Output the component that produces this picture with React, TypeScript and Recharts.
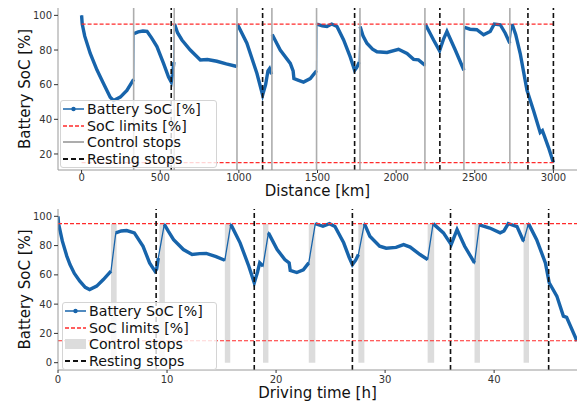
import React from "react";
import { ComposedChart, Line, XAxis, YAxis, ReferenceLine, ReferenceArea, Label } from "recharts";

// SoC over distance (upper panel)
const distanceKm = [
	0, 4, 20, 55, 98, 140, 182, 203, 246, 288, 331,
	333, 360, 390, 416, 445, 479, 521, 553, 570, 578, 587,
	591, 610, 638, 691, 755, 800, 860, 920, 988,
	990, 1051, 1115, 1151, 1170, 1185, 1195, 1208,
	1212, 1263, 1327, 1345, 1350, 1380, 1411, 1454, 1494,
	1496, 1530, 1560, 1590, 1624, 1666, 1708, 1736, 1750, 1765,
	1771, 1790, 1814, 1850, 1878, 1942, 2015, 2069, 2111, 2142, 2183,
	2185, 2238, 2276, 2300, 2323, 2376, 2431,
	2435, 2470, 2513, 2556, 2598, 2624, 2662, 2694, 2723,
	2737, 2760, 2789, 2832, 2874, 2916, 2930, 2940, 2969, 3000,
];
const distanceSoc = [
	100, 95, 88, 78, 68.4, 60.6, 52.8, 50.9, 52.8, 56.7, 63,
	89.5, 90.5, 91, 90.8, 87, 82, 72.3, 64.4, 61.5, 66, 73,
	95, 90, 85.8, 80, 74.2, 74.5, 73.5, 72, 70.5,
	95, 83.9, 66.4, 54, 60, 68, 69.3, 66,
	89, 80, 72.3, 68, 63.5, 62.5, 61.5, 63.5, 68,
	95, 94, 93.6, 95, 93.6, 85.8, 76, 68.3, 70, 73,
	93.5, 88, 83.9, 80.5, 79, 78.6, 80.4, 78, 74.6, 74.3, 71.3,
	95, 85.8, 79.6, 86, 90.7, 80, 68.3,
	93, 92, 91.7, 88.8, 90.7, 95, 94.6, 89.7, 83.9,
	95, 89, 78, 56.7, 45, 32.4, 33.5, 31, 23.7, 15,
];
const controlStopsKm = [331, 589, 988, 1210, 1494, 1770, 2183, 2431, 2723];
const restingStopsKm = [570, 1151, 1736, 2278, 2838, 3000];
const distanceTicks = [0, 500, 1000, 1500, 2000, 2500, 3000];

// SoC over driving time (lower panel)
const drivingHours = [
	0, 0.05, 0.4, 0.8, 1.1, 1.5, 2.0, 2.5, 2.9, 3.55, 4.16, 4.86,
	5.3, 5.8, 6.3, 7.0, 7.8, 8.4, 8.9, 9.05, 9.2,
	9.75, 10.1, 10.6, 11.5, 12.3, 13.0, 13.6, 14.5, 15.3,
	15.85, 16.7, 17.5, 18.0, 18.3, 18.5, 18.8,
	19.3, 20.1, 20.8, 21.2, 21.3, 21.9, 22.5, 23.0,
	23.6, 24.3, 24.9, 25.4, 26.2, 26.7, 27.0, 27.3, 27.55,
	28.1, 28.6, 29.5, 30.1, 31.0, 31.7, 32.3, 33.2, 33.9,
	34.4, 35.35, 36.06, 36.6, 37.3, 38.2,
	38.65, 39.6, 40.55, 40.9, 41.3, 42.1, 42.7,
	43.15, 43.9, 44.7, 45.05, 45.75, 46.35, 46.65, 47.6,
];
const drivingSoc = [
	100, 95, 83, 73, 67, 61, 55.7, 51.5, 50, 52.3, 56.8, 62.5,
	88.7, 90, 90.3, 88.7, 79.5, 68.2, 62.5, 64, 71.6,
	94.5, 90, 84.1, 77.3, 73.9, 74.5, 74.6, 72.5, 70,
	94.5, 81.9, 65.9, 54.6, 62, 68.2, 66,
	88.7, 77.3, 70.5, 68.2, 63, 61.6, 63.4, 68.2,
	95, 93.2, 95, 93, 81.9, 72, 67, 70, 73.9,
	95, 86.4, 79.6, 78.2, 78.8, 80.7, 79, 73.9, 70.5,
	95, 88.7, 80.7, 90.9, 79.5, 68.2,
	94.1, 92, 88.7, 90, 95, 93, 83,
	95, 84, 68.2, 54.6, 45.5, 31.8, 31, 14.8,
];
const controlStartH = [4.86, 9.3, 15.3, 18.8, 23.0, 27.55, 33.9, 38.2, 42.7];
const controlEndH = [5.38, 9.8, 15.8, 19.3, 23.6, 28.1, 34.5, 38.7, 43.2];
const restingStopsH = [9, 18, 27, 36, 45];
const hourTicks = [0, 10, 20, 30, 40];

const socLimits = [95, 15];
const socTicksTop = [20, 40, 60, 80, 100];
const socTicksBottom = [0, 20, 40, 60, 80, 100];

const BLUE = "#1764ab";
const LIMIT_RED = "#ff2b2b";
const STOP_GRAY = "#adadad";
const BAR_GRAY = "#dcdcdc";
const FRAME = "#999";
const FONT = "'DejaVu Sans', sans-serif";

type Pt = { x: number; soc: number };

const toPoints = (xs: number[], ys: number[]): Pt[] => xs.map((x, i) => ({ x, soc: ys[i] }));

// split the trace into driving legs, a new leg starts after every control stop
const splitLegs = (pts: Pt[], stops: number[]): Pt[][] => {
	const legs: Pt[][] = [];
	for (const p of pts) {
		const k = stops.filter((s) => s < p.x).length;
		(legs[k] ||= []).push(p);
	}
	return legs.filter(Boolean);
};

const yTitle = (props: any) => {
	const { viewBox } = props;
	const cx = 25;
	const cy = viewBox.y + viewBox.height / 2;
	return (
		<text x={cx} y={cy} transform={`rotate(-90, ${cx}, ${cy})`} textAnchor="middle" dominantBaseline="central" fontSize={15} fill="#111">
			Battery SoC [%]
		</text>
	);
};

const xTitle = (text: string, dy: number) => (props: any) => {
	const { viewBox } = props;
	return (
		<text x={viewBox.x + viewBox.width / 2} y={viewBox.y + dy} textAnchor="middle" fontSize={15} fill="#111">
			{text}
		</text>
	);
};

const tickStyle = { fontSize: 10, fill: "#333" };

function LegendBox(props: { left: number; top: number; width: number; height: number; barStops: boolean }) {
	const { left, top, width, height, barStops } = props;
	const row = (icon: React.ReactNode, label: string) => (
		<div style={{ display: "flex", alignItems: "center", height: (height - 2) / 4 }}>
			<svg width={21} height={12} style={{ marginRight: 3, flex: "none" }}>
				{icon}
			</svg>
			<span>{label}</span>
		</div>
	);
	return (
		<div
			style={{
				position: "absolute",
				left,
				top,
				width,
				height,
				boxSizing: "border-box",
				border: "1px solid #d4d4d4",
				borderRadius: 3,
				background: "rgba(255,255,255,0.8)",
				padding: "0 0 0 2px",
				fontFamily: FONT,
				fontSize: 14.2,
				lineHeight: "14px",
				color: "#111",
				whiteSpace: "nowrap",
			}}
		>
			{row(
				<>
					<line x1={0} y1={6} x2={21} y2={6} stroke={BLUE} strokeWidth={1.5} />
					<circle cx={10.5} cy={6} r={2.2} fill={BLUE} />
				</>,
				"Battery SoC [%]",
			)}
			{row(<line x1={0} y1={6} x2={21} y2={6} stroke={LIMIT_RED} strokeWidth={1.3} strokeDasharray="4 2" />, "SoC limits [%]")}
			{row(
				barStops ? (
					<rect x={0} y={1} width={21} height={10} fill={BAR_GRAY} />
				) : (
					<line x1={0} y1={6} x2={21} y2={6} stroke={STOP_GRAY} strokeWidth={2} />
				),
				"Control stops",
			)}
			{row(<line x1={0} y1={6} x2={21} y2={6} stroke="#111" strokeWidth={2} strokeDasharray="5 3" />, "Resting stops")}
		</div>
	);
}

export default function App() {
	const distPts = toPoints(distanceKm, distanceSoc);
	const distLegs = splitLegs(distPts, controlStopsKm);
	const timePts = toPoints(drivingHours, drivingSoc);
	const timeLegs = splitLegs(timePts, controlStartH);

	return (
		<div style={{ position: "absolute", left: 0, top: 0, width: 588, height: 403, background: "#fff", fontFamily: FONT }}>
			<div style={{ position: "absolute", left: 0, top: 0 }}>
				<ComposedChart width={588} height={200} margin={{ top: 8, right: 11, bottom: 0, left: 0 }}>
					<XAxis
						dataKey="x"
						type="number"
						domain={[-150, 3150]}
						ticks={distanceTicks}
						allowDataOverflow
						height={30}
						tick={tickStyle}
						tickSize={3}
						tickMargin={1}
						stroke={FRAME}
						tickLine={{ stroke: "#333" }}
					>
						<Label content={xTitle("Distance [km]", 26)} />
					</XAxis>
					<YAxis
						type="number"
						domain={[10.75, 104.25]}
						ticks={socTicksTop}
						allowDataOverflow
						width={58}
						tick={tickStyle}
						tickSize={4}
						tickMargin={2}
						stroke={FRAME}
						tickLine={{ stroke: "#333" }}
					>
						<Label content={yTitle} />
					</YAxis>
					<XAxis xAxisId="frame" orientation="top" type="number" domain={[0, 1]} height={0} tick={false} tickLine={false} axisLine={{ stroke: FRAME }} />
					<YAxis yAxisId="frame" orientation="right" type="number" domain={[0, 1]} width={0} tick={false} tickLine={false} axisLine={{ stroke: FRAME }} />

					<Line data={distPts} dataKey="soc" stroke={BLUE} strokeWidth={1.3} dot={false} isAnimationActive={false} />
					{distLegs.map((leg, i) => (
						<Line key={`d${i}`} data={leg} dataKey="soc" stroke={BLUE} strokeWidth={3.4} dot={false} isAnimationActive={false} />
					))}
					{socLimits.map((v) => (
						<ReferenceLine
							key={`l${v}`}
							segment={[
								{ x: distanceKm[0], y: v },
								{ x: distanceKm[distanceKm.length - 1], y: v },
							]}
							stroke={LIMIT_RED}
							strokeWidth={1.2}
							strokeDasharray="4 2"
						/>
					))}
					{controlStopsKm.map((km) => (
						<ReferenceLine key={`c${km}`} x={km} stroke={STOP_GRAY} strokeWidth={1.6} />
					))}
					{restingStopsKm.map((km) => (
						<ReferenceLine key={`r${km}`} x={km} stroke="#111" strokeWidth={1.6} strokeDasharray="5 3" />
					))}
				</ComposedChart>
			</div>

			<div style={{ position: "absolute", left: 0, top: 200 }}>
				<ComposedChart width={588} height={203} margin={{ top: 9, right: 11, bottom: 0, left: 0 }}>
					<XAxis
						dataKey="x"
						type="number"
						domain={[0, 47.6]}
						ticks={hourTicks}
						allowDataOverflow
						height={33}
						tick={tickStyle}
						tickSize={3}
						tickMargin={3}
						stroke={FRAME}
						tickLine={{ stroke: "#333" }}
					>
						<Label content={xTitle("Driving time [h]", 28)} />
					</XAxis>
					<YAxis
						type="number"
						domain={[-5, 105]}
						ticks={socTicksBottom}
						allowDataOverflow
						width={58}
						tick={tickStyle}
						tickSize={4}
						tickMargin={2}
						stroke={FRAME}
						tickLine={{ stroke: "#333" }}
					>
						<Label content={yTitle} />
					</YAxis>
					<XAxis xAxisId="frame" orientation="top" type="number" domain={[0, 1]} height={0} tick={false} tickLine={false} axisLine={{ stroke: "#888", strokeWidth: 2 }} />
					<YAxis yAxisId="frame" orientation="right" type="number" domain={[0, 1]} width={0} tick={false} tickLine={false} axisLine={{ stroke: FRAME }} />

					{controlStartH.map((h, i) => (
						<ReferenceArea key={`b${i}`} x1={h} x2={controlEndH[i]} y1={0} y2={socLimits[0]} fill={BAR_GRAY} fillOpacity={1} stroke="none" />
					))}
					<Line data={timePts} dataKey="soc" stroke={BLUE} strokeWidth={1.3} dot={false} isAnimationActive={false} />
					{timeLegs.map((leg, i) => (
						<Line key={`t${i}`} data={leg} dataKey="soc" stroke={BLUE} strokeWidth={3.4} dot={false} isAnimationActive={false} />
					))}
					{socLimits.map((v) => (
						<ReferenceLine key={`l${v}`} y={v} stroke={LIMIT_RED} strokeWidth={1.2} strokeDasharray="4 2" />
					))}
					{restingStopsH.map((h) => (
						<ReferenceLine key={`r${h}`} x={h} stroke="#111" strokeWidth={1.6} strokeDasharray="5 3" />
					))}
				</ComposedChart>
			</div>

			<LegendBox left={60} top={100} width={157} height={68} barStops={false} />
			<LegendBox left={62} top={302} width={155} height={68} barStops={true} />
		</div>
	);
}
